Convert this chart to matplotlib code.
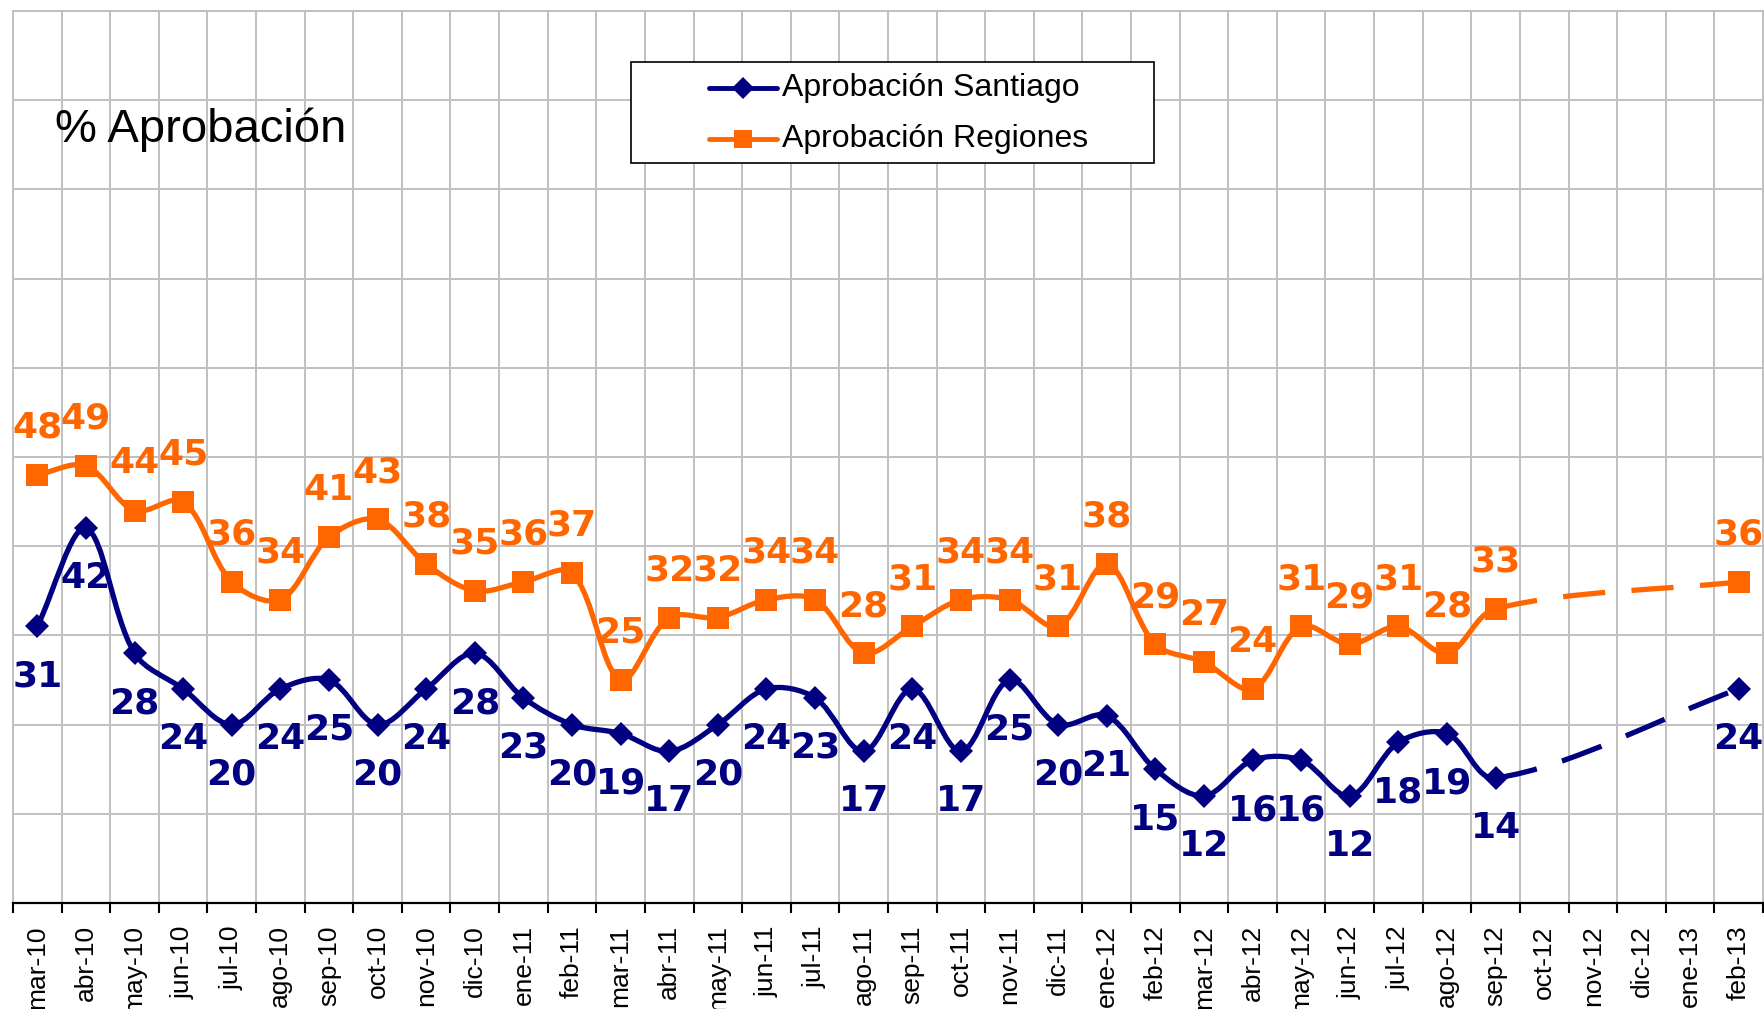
import numpy as np
import matplotlib
matplotlib.use("Agg")
import matplotlib.pyplot as plt
from matplotlib.path import Path
from matplotlib.patches import PathPatch, Rectangle
from matplotlib.lines import Line2D

months = ["mar-10", "abr-10", "may-10", "jun-10", "jul-10", "ago-10", "sep-10", "oct-10",
          "nov-10", "dic-10", "ene-11", "feb-11", "mar-11", "abr-11", "may-11", "jun-11",
          "jul-11", "ago-11", "sep-11", "oct-11", "nov-11", "dic-11", "ene-12", "feb-12",
          "mar-12", "abr-12", "may-12", "jun-12", "jul-12", "ago-12", "sep-12", "oct-12",
          "nov-12", "dic-12", "ene-13", "feb-13"]

santiago = [31, 42, 28, 24, 20, 24, 25, 20, 24, 28, 23, 20, 19, 17, 20, 24, 23, 17, 24, 17,
            25, 20, 21, 15, 12, 16, 16, 12, 18, 19, 14, None, None, None, None, 24]
regiones = [48, 49, 44, 45, 36, 34, 41, 43, 38, 35, 36, 37, 25, 32, 32, 34, 34, 28, 31, 34,
            34, 31, 38, 29, 27, 24, 31, 29, 31, 28, 33, None, None, None, None, 36]

C_SANT = "#000080"
C_REG = "#FF6600"
C_GRID = "#C0C0C0"

fig = plt.figure(figsize=(17.65, 10.09), dpi=100)
fig.patch.set_facecolor("white")
ax = fig.add_axes([13 / 1765, 1 - 903 / 1009, 1750 / 1765, 892 / 1009])

x_all = np.arange(len(months))
ax.set_xlim(-0.5, len(months) - 0.5)
ax.set_ylim(0, 100)


def bezier_segments(xs, ys):
    # smoothed line like Excel: cubic Bezier, handles scaled by chord length (in pixels)
    pts = ax.transData.transform(np.column_stack([xs, ys]).astype(float))
    n = len(pts)
    inv = ax.transData.inverted()
    segs = []
    for i in range(n - 1):
        p0 = pts[i - 1] if i > 0 else pts[i]
        p1, p2 = pts[i], pts[i + 1]
        p3 = pts[i + 2] if i + 2 < n else pts[i + 1]
        d01 = np.hypot(*(p1 - p0))
        d12 = np.hypot(*(p2 - p1))
        d23 = np.hypot(*(p3 - p2))
        c1 = p1 + (p2 - p0) * d12 / (d01 + d12) / 3.0
        c2 = p2 - (p3 - p1) * d12 / (d12 + d23) / 3.0
        segs.append(inv.transform(np.array([p1, c1, c2, p2])))
    return segs


def draw_series(values, color, marker, ms, zo):
    xs = [i for i, v in enumerate(values) if v is not None]
    ys = [v for v in values if v is not None]
    segs = bezier_segments(xs, ys)
    for k, seg in enumerate(segs):
        gap = xs[k + 1] - xs[k] > 1
        path = Path(seg, [Path.MOVETO, Path.CURVE4, Path.CURVE4, Path.CURVE4])
        patch = PathPatch(path, fill=False, edgecolor=color, lw=3.8, zorder=zo,
                          linestyle=(0, (8, 5)) if gap else "-",
                          capstyle="butt" if gap else "round", joinstyle="round")
        ax.add_patch(patch)
    ax.plot(xs, ys, linestyle="none", marker=marker, ms=ms, color=color,
            markeredgewidth=0, zorder=zo + 1)
    return xs, ys


xs_s, ys_s = draw_series(santiago, C_SANT, "D", 12.5, 3)
xs_r, ys_r = draw_series(regiones, C_REG, "s", 16, 5)

# data labels
for x, y in zip(xs_s, ys_s):
    ax.annotate(str(y), (x, y), xytext=(0, -36), textcoords="offset points",
                ha="center", va="center", fontsize=26, fontweight="bold",
                color=C_SANT, zorder=8)
for x, y in zip(xs_r, ys_r):
    ax.annotate(str(y), (x, y), xytext=(0, 34), textcoords="offset points",
                ha="center", va="center", fontsize=26, fontweight="bold",
                color=C_REG, zorder=8)

# grid & ticks
ax.set_xticks(x_all)
ax.set_xticklabels(months, rotation=90, fontsize=19, family="Liberation Sans", va="top")
ax.set_xticks(np.arange(len(months) + 1) - 0.5, minor=True)
ax.tick_params(axis="x", which="major", length=0, pad=16)
ax.tick_params(axis="x", which="minor", length=7, width=1.5, color="black", direction="out")
ax.set_yticks(np.arange(0, 101, 10))
ax.tick_params(axis="y", which="both", length=0, labelleft=False)
ax.grid(True, which="minor", axis="x", color=C_GRID, lw=1.4)
ax.grid(True, which="major", axis="y", color=C_GRID, lw=1.4)
ax.set_axisbelow(True)
for side in ["left", "top", "right"]:
    ax.spines[side].set_color(C_GRID)
    ax.spines[side].set_linewidth(1.4)
ax.spines["bottom"].set_color("black")
ax.spines["bottom"].set_linewidth(1.6)

# title text inside plot
ax.text(0.024, 0.853, "% Aprobación", transform=ax.transAxes, ha="left", va="baseline",
        fontsize=34, family="Liberation Sans", color="black", zorder=9)

# legend box (Excel style)
ax.add_patch(Rectangle((0.3531, 0.8296), 0.2989, 0.1132, transform=ax.transAxes,
                       facecolor="white", edgecolor="black", lw=1.2, zorder=10))
legend_rows = [("Aprobación Santiago", C_SANT, "D", 11, 0.9137),
               ("Aprobación Regiones", C_REG, "s", 13, 0.8565)]
for label, col, mk, msz, yy in legend_rows:
    ax.add_line(Line2D([0.3977, 0.4366], [yy, yy], transform=ax.transAxes, color=col,
                       lw=3.5, solid_capstyle="round", zorder=11))
    ax.add_line(Line2D([0.4171], [yy], transform=ax.transAxes, color=col, marker=mk,
                       ms=msz, markeredgewidth=0, zorder=12))
    ax.text(0.4395, yy, label, transform=ax.transAxes, ha="left", va="center",
            fontsize=23, family="Liberation Sans", color="black", zorder=12)

fig.savefig("out.png", dpi=100, facecolor="white")
